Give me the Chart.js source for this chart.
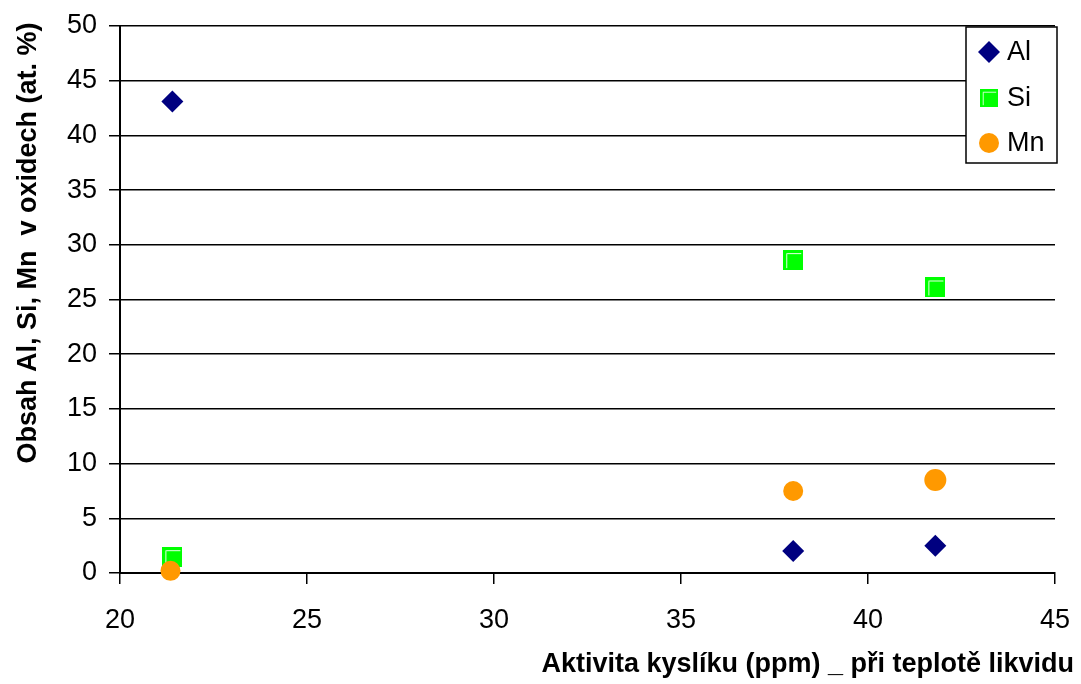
<!DOCTYPE html>
<html>
<head>
<meta charset="utf-8">
<script src="https://cdn.jsdelivr.net/npm/chart.js@4/dist/chart.umd.min.js"></script>
<style>
  html, body { margin: 0; padding: 0; background: #ffffff; }
  #wrap { width: 1081px; height: 684px; position: relative; }
</style>
</head>
<body>
<div id="wrap"><canvas id="c" width="1081" height="684"></canvas></div>
<script>
// Oxygen activity (ppm) at liquidus temperature
const oxygenActivity = [21.4, 38.0, 41.8];
const oxygenActivityMn = [21.35, 38.0, 41.8];

// Al, Si, Mn content in oxides (at. %)
const alValues = [43.1, 2.0, 2.5];
const siValues = [1.45, 28.6, 26.1];
const mnValues = [0.2, 7.5, 8.5];

const seriesNames = ['Al', 'Si', 'Mn'];
const xTicks = [20, 25, 30, 35, 40, 45];
const yTicks = [0, 5, 10, 15, 20, 25, 30, 35, 40, 45, 50];

const xTitle = 'Aktivita kyslíku (ppm) _ při teplotě likvidu';
const yTitle = 'Obsah Al, Si, Mn  v oxidech (at. %)';

const FONT = '"Liberation Sans", Arial, sans-serif';

// Green square marker with a light bevel along the top and left edges
function makeSquareMarker() {
  const s = 20;
  const c = document.createElement('canvas');
  c.width = s; c.height = s;
  const g = c.getContext('2d');
  g.fillStyle = '#00ff00';
  g.fillRect(0, 0, s, s);
  g.strokeStyle = 'rgba(255,255,255,0.9)';
  g.lineWidth = 1;
  g.beginPath();
  g.moveTo(3.5, s - 2);
  g.lineTo(3.5, 3.5);
  g.lineTo(s - 2, 3.5);
  g.stroke();
  return c;
}
const squareMarker = makeSquareMarker();

function toPoints(xs, ys) {
  return xs.map((x, i) => ({ x: x, y: ys[i] }));
}

const datasets = [
  {
    label: seriesNames[0],
    data: toPoints(oxygenActivity, alValues),
    pointStyle: 'rectRot',
    pointRadius: 11,
    backgroundColor: '#000080',
    borderColor: '#000080',
    borderWidth: 0,
    clip: false,
    order: 1
  },
  {
    label: seriesNames[1],
    data: toPoints(oxygenActivity, siValues),
    pointStyle: squareMarker,
    pointRadius: 10,
    backgroundColor: '#00ff00',
    borderColor: '#00ff00',
    borderWidth: 0,
    clip: false,
    order: 2
  },
  {
    label: seriesNames[2],
    data: toPoints(oxygenActivityMn, mnValues),
    pointStyle: 'circle',
    pointRadius: [10, 10, 11],
    backgroundColor: '#ff9900',
    borderColor: '#ff9900',
    borderWidth: 0,
    clip: false,
    order: 0
  }
];

// Boxed legend in the upper right corner of the plot area, plus axis titles
const decorations = {
  id: 'decorations',
  afterDraw(chart) {
    const ctx = chart.ctx;
    ctx.save();

    // legend box
    const bx = 966, by = 27, bw = 91, bh = 136;
    ctx.fillStyle = '#ffffff';
    ctx.fillRect(bx, by, bw, bh);
    ctx.strokeStyle = '#000000';
    ctx.lineWidth = 1.5;
    ctx.strokeRect(bx, by, bw, bh);

    const rows = [52, 98, 143];
    const mx = 989;
    chart.data.datasets.forEach((ds, i) => {
      const y = rows[i];
      ctx.fillStyle = ds.backgroundColor;
      if (ds.pointStyle === 'rectRot') {
        const r = 11;
        ctx.beginPath();
        ctx.moveTo(mx - r, y);
        ctx.lineTo(mx, y - r);
        ctx.lineTo(mx + r, y);
        ctx.lineTo(mx, y + r);
        ctx.closePath();
        ctx.fill();
      } else if (ds.pointStyle === 'circle') {
        ctx.beginPath();
        ctx.arc(mx, y, 10, 0, Math.PI * 2);
        ctx.fill();
      } else {
        ctx.drawImage(squareMarker, mx - 9, y - 9, 18, 18);
      }
      ctx.fillStyle = '#000000';
      ctx.font = '27px ' + FONT;
      ctx.textAlign = 'left';
      ctx.textBaseline = 'middle';
      ctx.fillText(ds.label, 1007, y + 1);
    });

    // axis titles
    ctx.fillStyle = '#000000';
    ctx.font = 'bold 27px ' + FONT;
    ctx.textAlign = 'right';
    ctx.textBaseline = 'alphabetic';
    ctx.fillText(xTitle, 1074, 672);

    ctx.translate(36, 243);
    ctx.rotate(-Math.PI / 2);
    ctx.textAlign = 'center';
    ctx.fillText(yTitle, 0, 0);
    ctx.restore();
  }
};

new Chart(document.getElementById('c'), {
  type: 'scatter',
  data: { datasets: datasets },
  options: {
    responsive: false,
    animation: false,
    events: [],
    layout: { padding: { top: 26, right: 26, left: 0, bottom: 0 } },
    plugins: {
      legend: { display: false },
      tooltip: { enabled: false },
      title: { display: false }
    },
    scales: {
      x: {
        type: 'linear',
        min: xTicks[0],
        max: xTicks[xTicks.length - 1],
        afterBuildTicks(scale) { scale.ticks = xTicks.map(v => ({ value: v })); },
        afterFit(scale) {
          scale.height = 111;
          scale.paddingLeft = 0;
          scale.paddingRight = 0;
        },
        ticks: {
          color: '#000000',
          font: { family: FONT, size: 27 },
          padding: 20,
          maxRotation: 0
        },
        grid: {
          drawOnChartArea: false,
          drawTicks: true,
          tickLength: 11,
          color: '#000000',
          lineWidth: 1.5
        },
        border: { display: true, color: '#000000', width: 2 }
      },
      y: {
        type: 'linear',
        min: yTicks[0],
        max: yTicks[yTicks.length - 1],
        afterBuildTicks(scale) { scale.ticks = yTicks.map(v => ({ value: v })); },
        afterFit(scale) {
          scale.width = 120;
          scale.paddingTop = 0;
          scale.paddingBottom = 0;
        },
        ticks: {
          color: '#000000',
          font: { family: FONT, size: 27 },
          padding: 12
        },
        grid: {
          drawOnChartArea: true,
          drawTicks: true,
          tickLength: 11,
          color: '#000000',
          lineWidth: 1.5
        },
        border: { display: true, color: '#000000', width: 2 }
      }
    }
  },
  plugins: [decorations]
});
</script>
</body>
</html>
